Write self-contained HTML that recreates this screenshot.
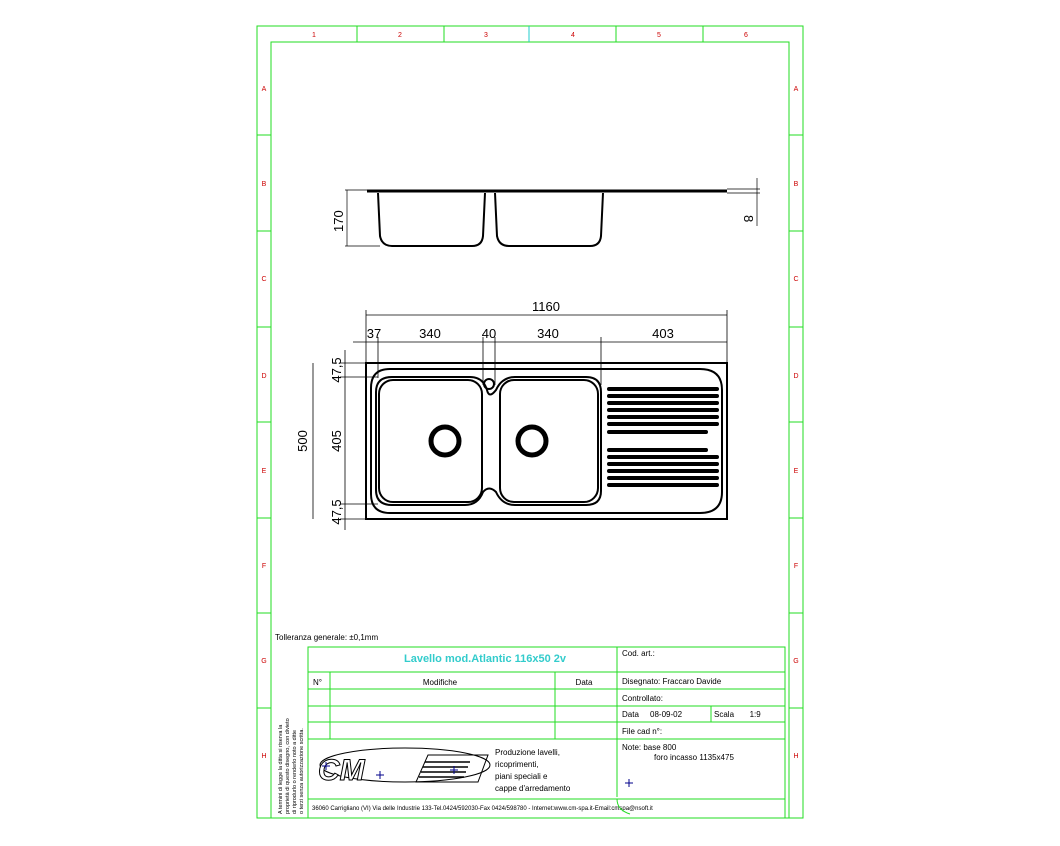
<!DOCTYPE html>
<html><head><meta charset="utf-8"><style>
html,body{margin:0;padding:0;background:#fff;}
svg{display:block;font-family:"Liberation Sans",sans-serif;}
</style></head><body>
<svg width="1060" height="846" viewBox="0 0 1060 846" xmlns="http://www.w3.org/2000/svg">
<g stroke="#22dd22" stroke-width="1" fill="none">
<rect x="257" y="26" width="546" height="792"/>
<path d="M271 818 V42 H789 V818"/>
<line x1="357" y1="26" x2="357" y2="42"/><line x1="444" y1="26" x2="444" y2="42"/>
<line x1="529" y1="26" x2="529" y2="42" stroke="#22cccc"/><line x1="616" y1="26" x2="616" y2="42"/>
<line x1="703" y1="26" x2="703" y2="42"/>
<g>
<line x1="257" y1="135" x2="271" y2="135"/><line x1="789" y1="135" x2="803" y2="135"/>
<line x1="257" y1="231" x2="271" y2="231"/><line x1="789" y1="231" x2="803" y2="231"/>
<line x1="257" y1="327" x2="271" y2="327"/><line x1="789" y1="327" x2="803" y2="327"/>
<line x1="257" y1="422" x2="271" y2="422"/><line x1="789" y1="422" x2="803" y2="422"/>
<line x1="257" y1="518" x2="271" y2="518"/><line x1="789" y1="518" x2="803" y2="518"/>
<line x1="257" y1="613" x2="271" y2="613"/><line x1="789" y1="613" x2="803" y2="613"/>
<line x1="257" y1="708" x2="271" y2="708"/><line x1="789" y1="708" x2="803" y2="708"/>
</g>
<rect x="308" y="647" width="477" height="171"/>
<line x1="617" y1="647" x2="617" y2="797"/>
<line x1="308" y1="672" x2="785" y2="672"/>
<line x1="308" y1="689" x2="785" y2="689"/>
<line x1="308" y1="706" x2="785" y2="706"/>
<line x1="308" y1="722" x2="785" y2="722"/>
<line x1="617" y1="739" x2="785" y2="739"/>
<line x1="308" y1="739" x2="617" y2="739"/>
<line x1="308" y1="799" x2="785" y2="799"/>
<line x1="330" y1="672" x2="330" y2="739"/>
<line x1="555" y1="672" x2="555" y2="739"/>
<line x1="711" y1="706" x2="711" y2="722"/>
</g>
<g fill="#cc0000" font-size="7" text-anchor="middle">
<text x="314" y="37">1</text><text x="400" y="37">2</text><text x="486" y="37">3</text>
<text x="573" y="37">4</text><text x="659" y="37">5</text><text x="746" y="37">6</text>
<text x="264" y="91">A</text><text x="796" y="91">A</text>
<text x="264" y="186">B</text><text x="796" y="186">B</text>
<text x="264" y="281">C</text><text x="796" y="281">C</text>
<text x="264" y="378">D</text><text x="796" y="378">D</text>
<text x="264" y="473">E</text><text x="796" y="473">E</text>
<text x="264" y="568">F</text><text x="796" y="568">F</text>
<text x="264" y="663">G</text><text x="796" y="663">G</text>
<text x="264" y="758">H</text><text x="796" y="758">H</text>
</g>
<g font-size="8" fill="#000">
<text x="275" y="640">Tolleranza generale: ±0,1mm</text>
<text x="485" y="662" text-anchor="middle" fill="#33cccc" font-size="11" font-weight="bold">Lavello mod.Atlantic 116x50 2v</text>
<text x="313" y="685">N°</text>
<text x="440" y="685" text-anchor="middle">Modifiche</text>
<text x="584" y="685" text-anchor="middle">Data</text>
<text x="622" y="656">Cod. art.:</text>
<text x="622" y="684">Disegnato: Fraccaro Davide</text>
<text x="622" y="701">Controllato:</text>
<text x="622" y="717">Data &#160;&#160;&#160; 08-09-02</text>
<text x="714" y="717">Scala &#160;&#160;&#160;&#160;&#160; 1:9</text>
<text x="622" y="734">File cad n°:</text>
<text x="622" y="750">Note: base 800</text>
<text x="654" y="760">foro incasso 1135x475</text>
<text x="495" y="755">Produzione lavelli,</text>
<text x="495" y="767">ricoprimenti,</text>
<text x="495" y="779">piani speciali e</text>
<text x="495" y="791">cappe d'arredamento</text>
<text x="312" y="810" font-size="6">36060 Carrigliano (VI) Via delle Industrie 133-Tel.0424/592030-Fax 0424/598780 - Internet:www.cm-spa.it-Email:cmspa@nsoft.it</text>
<text x="0" y="0" font-size="5.5" transform="translate(282,814) rotate(-90)">A termini di legge la ditta si riserva la</text>
<text x="0" y="0" font-size="5.5" transform="translate(289,814) rotate(-90)">proprietà di questo disegno, con divieto</text>
<text x="0" y="0" font-size="5.5" transform="translate(296,814) rotate(-90)">di riprodurlo o renderlo noto a ditte</text>
<text x="0" y="0" font-size="5.5" transform="translate(303,814) rotate(-90)">o terzi senza autorizzazione scritta.</text>
</g>
<g stroke="#000" fill="none" stroke-width="1">
<ellipse cx="405" cy="765" rx="85" ry="17"/>
<text x="318" y="780" font-size="30" font-style="italic" font-weight="bold" fill="#fff" stroke="#000">CM</text>
<g stroke-width="1.5"><line x1="425" y1="762" x2="470" y2="762"/><line x1="423" y1="767" x2="468" y2="767"/><line x1="421" y1="772" x2="466" y2="772"/><line x1="419" y1="777" x2="464" y2="777"/></g>
<polygon points="428,755 488,755 478,782 416,782"/>
<g stroke="#00008b"><path d="M322 766h8M326 762v8M376 775h8M380 771v8M450 770h8M454 766v8M625 783h8M629 779v8"/></g>
<path d="M617 799 Q617 810 630 814" stroke="#22dd22"/>
</g>
<g stroke="#000" fill="none">
<line x1="367" y1="191" x2="727" y2="191" stroke-width="3"/>
<path d="M378 193 L380 236 Q382 246 392 246 L472 246 Q482 246 483 236 L485 193" stroke-width="2"/>
<path d="M495 193 L497 236 Q499 246 509 246 L590 246 Q600 246 601 236 L603 193" stroke-width="2"/>
<line x1="727" y1="189" x2="760" y2="189" stroke-width="0.7"/><line x1="727" y1="193" x2="760" y2="193" stroke-width="0.7"/>
<line x1="757" y1="178" x2="757" y2="226" stroke-width="0.7"/>
<line x1="347" y1="190" x2="347" y2="246" stroke-width="0.7"/>
<line x1="345" y1="190" x2="370" y2="190" stroke-width="0.7"/><line x1="345" y1="246" x2="380" y2="246" stroke-width="0.7"/>
</g>
<g font-size="13" fill="#000">
<text transform="translate(343,232) rotate(-90)">170</text>
<text transform="translate(744,215) rotate(90)">8</text>
</g>
<g stroke="#000" fill="none" stroke-width="0.8">
<line x1="366" y1="315" x2="727" y2="315"/>
<line x1="366" y1="310" x2="366" y2="363"/><line x1="727" y1="310" x2="727" y2="363"/>
<line x1="353" y1="342" x2="727" y2="342"/>
<line x1="378" y1="337" x2="378" y2="378"/><line x1="483" y1="337" x2="483" y2="385"/>
<line x1="495" y1="337" x2="495" y2="385"/><line x1="601" y1="337" x2="601" y2="385"/>
<line x1="313" y1="363" x2="313" y2="519"/>
<line x1="345" y1="350" x2="345" y2="530"/>
<line x1="340" y1="363" x2="366" y2="363"/><line x1="340" y1="377" x2="378" y2="377"/>
<line x1="340" y1="504" x2="378" y2="504"/><line x1="340" y1="519" x2="366" y2="519"/>
</g>
<g font-size="13" fill="#000" text-anchor="middle">
<text x="546" y="311">1160</text>
<text x="374" y="338">37</text><text x="430" y="338">340</text><text x="489" y="338">40</text>
<text x="548" y="338">340</text><text x="663" y="338">403</text>
<text transform="translate(307,441) rotate(-90)">500</text>
<text transform="translate(341,441) rotate(-90)">405</text>
<text transform="translate(341,370) rotate(-90)">47,5</text>
<text transform="translate(341,512) rotate(-90)">47,5</text>
</g>
<g stroke="#000" fill="none" stroke-width="2">
<rect x="366" y="363" width="361" height="156"/>
<path d="M390 369 L700 369 Q722 369 722 390 L722 492 Q722 513 700 513 L390 513 Q371 513 371 494 L371 388 Q371 369 390 369 Z"/>
<path d="M392 377 L470 377 Q483 377 487 390 Q489 399 496 390 Q502 377 515 377 L586 377 Q601 377 601 392 L601 491 Q601 505 586 505 L515 505 Q502 505 496 492 Q489 485 483 492 Q478 505 465 505 L392 505 Q376 505 376 490 L376 392 Q376 377 392 377 Z"/>
<rect x="379" y="380" width="103" height="122" rx="14"/>
<rect x="500" y="380" width="98" height="122" rx="14"/>
<circle cx="489" cy="384" r="5"/>
<circle cx="445" cy="441" r="14" stroke-width="5"/>
<circle cx="532" cy="441" r="14" stroke-width="5"/>
</g>
<g stroke="#000" stroke-width="4" stroke-linecap="round">
<line x1="609" y1="389" x2="717" y2="389"/><line x1="609" y1="396" x2="717" y2="396"/>
<line x1="609" y1="403" x2="717" y2="403"/><line x1="609" y1="410" x2="717" y2="410"/>
<line x1="609" y1="417" x2="717" y2="417"/><line x1="609" y1="424" x2="717" y2="424"/>
<line x1="609" y1="432" x2="706" y2="432"/>
<line x1="609" y1="450" x2="706" y2="450"/><line x1="609" y1="457" x2="717" y2="457"/>
<line x1="609" y1="464" x2="717" y2="464"/><line x1="609" y1="471" x2="717" y2="471"/>
<line x1="609" y1="478" x2="717" y2="478"/><line x1="609" y1="485" x2="717" y2="485"/>
</g>
</svg>
</body></html>
